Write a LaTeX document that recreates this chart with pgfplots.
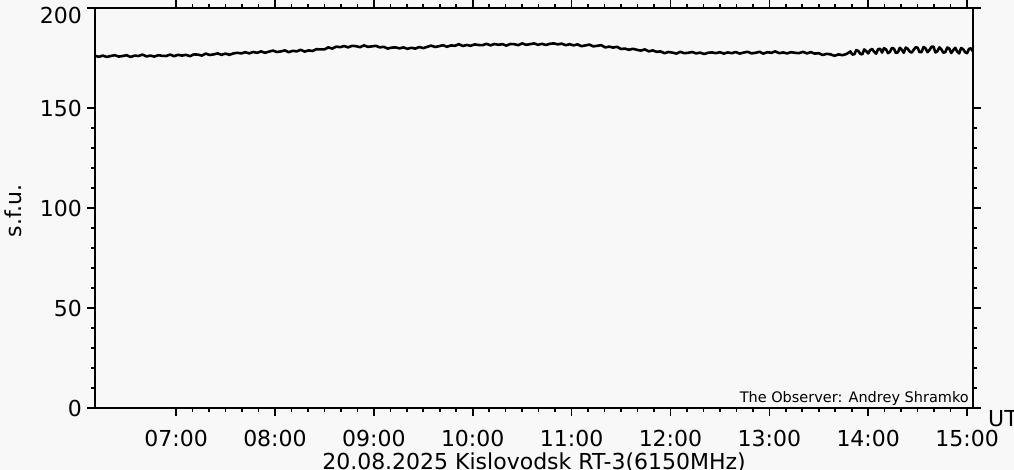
\documentclass[border=0pt]{standalone}
\usepackage{pgfplots}
\pgfplotsset{compat=1.18}
\usepackage{fontspec}
\setmainfont{DejaVu Sans}
\definecolor{bg}{HTML}{F8F8F8}
\begin{document}
\begin{tikzpicture}
\path[use as bounding box, fill=bg] (0,0) rectangle (1014bp,470bp);
\begin{axis}[
  at={(95bp,62bp)}, anchor=south west,
  scale only axis, width=878bp, height=400bp,
  xmin=6.18, xmax=15.06, ymin=0, ymax=200,
  axis line style={line width=1.6bp},
  xtick={7,8,9,10,11,12,13,14,15},
  xticklabels={07:00,08:00,09:00,10:00,11:00,12:00,13:00,14:00,15:00},
  ytick={0,50,100,150}, extra y ticks={200},
  extra y tick style={yticklabel style={yshift=-7bp}},
  minor x tick num=5, minor y tick num=4,
  tick align=outside, xtick pos=both, ytick pos=both,
  xticklabel pos=lower, yticklabel pos=lower,
  major tick length=8bp, minor tick length=4bp,
  every tick/.style={black, line width=1.6bp},
  tick label style={font=\fontsize{22bp}{22bp}\selectfont, inner sep=0pt},
  xticklabel style={anchor=north, yshift=-14bp},
  yticklabel style={anchor=east, xshift=-5bp},
  /pgf/number format/assume math mode=true,
  clip=false,
]
\addplot[black, line width=2.6bp, line join=round] coordinates {
(6.18,176.1)(6.22,175.6)(6.26,176.2)(6.30,175.5)(6.34,176.0)(6.38,176.4)(6.42,175.7)(6.46,176.0)(6.50,176.4)(6.54,175.5)
(6.58,176.2)(6.62,176.0)(6.66,176.7)(6.70,175.8)(6.74,176.2)(6.78,175.7)(6.82,176.4)(6.86,176.1)(6.90,176.0)(6.94,176.7)
(6.98,175.9)(7.02,176.6)(7.06,176.2)(7.10,176.6)(7.14,175.9)(7.18,176.8)(7.22,176.7)(7.26,176.2)(7.30,177.2)(7.34,176.5)
(7.38,176.8)(7.42,177.3)(7.46,176.6)(7.50,177.2)(7.54,176.6)(7.58,177.3)(7.62,177.6)(7.66,177.3)(7.70,177.9)(7.74,177.3)
(7.78,178.0)(7.82,177.6)(7.86,178.3)(7.90,177.6)(7.94,178.2)(7.98,178.7)(8.02,178.0)(8.06,178.3)(8.10,178.8)(8.14,177.9)
(8.18,178.6)(8.22,178.3)(8.26,179.1)(8.30,178.2)(8.34,178.8)(8.38,178.5)(8.42,179.4)(8.46,179.3)(8.50,179.3)(8.54,180.3)
(8.58,179.7)(8.62,180.7)(8.66,180.4)(8.70,181.0)(8.74,180.3)(8.78,181.1)(8.82,180.9)(8.86,180.4)(8.90,181.3)(8.94,180.6)
(8.98,180.8)(9.02,181.1)(9.06,180.3)(9.10,180.6)(9.14,179.7)(9.18,180.2)(9.22,180.3)(9.26,179.8)(9.30,180.3)(9.34,179.6)
(9.38,180.1)(9.42,179.7)(9.46,180.5)(9.50,179.9)(9.54,180.6)(9.58,181.2)(9.62,180.5)(9.66,180.9)(9.70,181.4)(9.74,180.6)
(9.78,181.3)(9.82,181.1)(9.86,181.9)(9.90,181.0)(9.94,181.5)(9.98,181.1)(10.02,181.8)(10.06,181.5)(10.10,181.4)(10.14,182.1)
(10.18,181.3)(10.22,182.0)(10.26,181.6)(10.30,181.9)(10.34,181.2)(10.38,182.0)(10.42,181.9)(10.46,181.4)(10.50,182.3)(10.54,181.6)
(10.58,181.9)(10.62,182.3)(10.66,181.6)(10.70,182.1)(10.74,181.5)(10.78,182.1)(10.82,182.3)(10.86,181.8)(10.90,182.2)(10.94,181.4)
(10.98,181.9)(11.02,181.3)(11.06,181.8)(11.10,180.9)(11.14,181.3)(11.18,181.7)(11.22,180.8)(11.26,181.1)(11.30,181.4)(11.34,180.3)
(11.38,180.7)(11.42,180.2)(11.46,180.6)(11.50,179.5)(11.54,179.7)(11.58,179.1)(11.62,179.6)(11.66,179.1)(11.70,178.7)(11.74,179.3)
(11.78,178.3)(11.82,178.8)(11.86,178.1)(11.90,178.3)(11.94,177.4)(11.98,178.0)(12.02,177.7)(12.06,177.2)(12.10,178.1)(12.14,177.4)
(12.18,177.6)(12.22,178.0)(12.26,177.3)(12.30,177.7)(12.34,177.0)(12.38,177.6)(12.42,177.8)(12.46,177.4)(12.50,177.9)(12.54,177.2)
(12.58,177.8)(12.62,177.4)(12.66,178.0)(12.70,177.2)(12.74,177.7)(12.78,178.1)(12.82,177.3)(12.86,177.6)(12.90,178.1)(12.94,177.2)
(12.98,177.9)(13.02,177.6)(13.06,178.3)(13.10,177.4)(13.14,177.8)(13.18,177.3)(13.22,177.9)(13.26,177.6)(13.30,177.4)(13.34,178.1)
(13.38,177.3)(13.42,177.9)(13.46,177.2)(13.50,177.4)(13.54,176.5)(13.58,177.1)(13.62,176.8)(13.66,176.1)(13.70,176.8)(13.74,176.4)
(13.78,177.0)(13.80,177.6)(13.82,178.3)(13.84,176.7)(13.86,176.9)(13.88,179.0)(13.90,178.5)(13.92,177.1)(13.94,176.8)(13.96,179.3)
(13.98,178.4)(14.00,177.3)(14.02,179.0)(14.04,179.5)(14.06,178.1)(14.08,177.2)(14.10,179.4)(14.12,179.6)(14.14,177.7)(14.16,179.9)
(14.18,179.3)(14.20,177.4)(14.22,178.1)(14.24,180.0)(14.26,179.7)(14.28,177.5)(14.30,177.8)(14.32,180.1)(14.34,179.1)(14.36,177.6)
(14.38,180.2)(14.40,179.6)(14.42,178.2)(14.44,177.7)(14.46,179.1)(14.48,180.4)(14.50,180.1)(14.52,177.9)(14.54,178.0)(14.56,180.5)
(14.58,179.8)(14.60,177.9)(14.62,179.0)(14.64,180.6)(14.66,180.7)(14.68,177.8)(14.70,178.4)(14.72,180.3)(14.74,179.3)(14.76,177.6)
(14.78,178.0)(14.80,180.2)(14.82,179.7)(14.84,177.5)(14.86,178.9)(14.88,180.1)(14.90,178.3)(14.92,177.3)(14.94,180.0)(14.96,179.4)
(14.98,177.9)(15.00,177.4)(15.02,179.6)(15.04,179.8)(15.06,178.2)
};
\node[anchor=south east, font=\fontsize{14.5bp}{14.5bp}\selectfont, inner sep=0pt] at (rel axis cs:1,0) [xshift=-4bp, yshift=2bp] {The Observer: Andrey Shramko};
\node[anchor=base west, font=\fontsize{22bp}{22bp}\selectfont, inner sep=0pt] at (rel axis cs:1,0) [xshift=15bp, yshift=-18bp] {UT};
\node[anchor=base, font=\fontsize{22bp}{22bp}\selectfont, inner sep=0pt] at (rel axis cs:0.5,0) [yshift=-61bp] {20.08.2025 Kislovodsk RT-3(6150MHz)};
\node[xshift=-82bp, yshift=-3bp, anchor=center, rotate=90, font=\fontsize{22bp}{22bp}\selectfont, inner sep=0pt] at (rel axis cs:0,0.5) {s.f.u.};
\end{axis}
\end{tikzpicture}
\end{document}
